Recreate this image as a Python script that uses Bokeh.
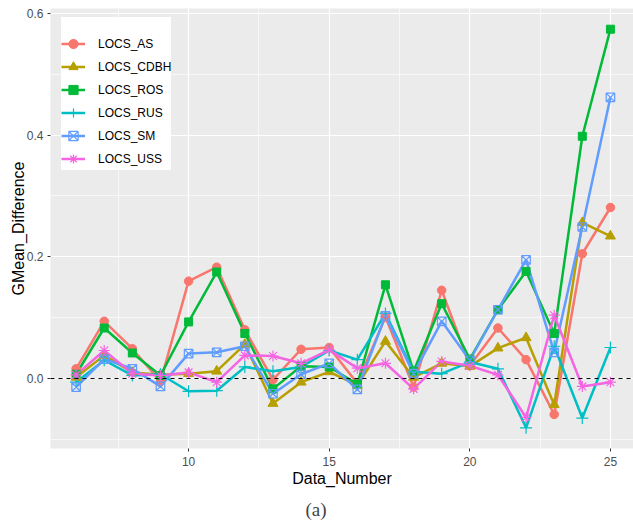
from bokeh.plotting import figure
from bokeh.models import (Range1d, FixedTicker, NumeralTickFormatter, Span,
                          Legend, LegendItem, Title)
from bokeh.embed import file_html
from bokeh.resources import INLINE

# Data sets 6..25
data_number = list(range(6, 26))

locs_as = [0.016, 0.094, 0.049, -0.005, 0.160, 0.183, 0.080, -0.002, 0.048, 0.051,
           -0.008, 0.101, -0.014, 0.145, 0.021, 0.083, 0.031, -0.059, 0.205, 0.281]
locs_cdbh = [0.002, 0.038, 0.010, 0.006, 0.008, 0.012, 0.056, -0.041, -0.006, 0.011,
             -0.011, 0.061, 0.002, 0.025, 0.020, 0.050, 0.067, -0.043, 0.256, 0.234]
locs_ros = [0.007, 0.083, 0.042, 0.005, 0.093, 0.175, 0.074, -0.017, 0.020, 0.019,
            -0.009, 0.154, 0.012, 0.123, 0.032, 0.113, 0.176, 0.074, 0.398, 0.574]
locs_rus = [-0.006, 0.030, 0.005, 0.007, -0.021, -0.020, 0.019, 0.012, 0.019, 0.046,
            0.031, 0.107, 0.011, 0.008, 0.027, 0.016, -0.081, 0.053, -0.065, 0.051]
locs_sm = [-0.014, 0.032, 0.016, -0.013, 0.041, 0.043, 0.053, -0.025, 0.007, 0.025,
           -0.018, 0.103, 0.008, 0.094, 0.030, 0.113, 0.195, 0.043, 0.249, 0.462]
locs_uss = [0.006, 0.046, 0.008, 0.005, 0.010, -0.006, 0.038, 0.037, 0.025, 0.047,
            0.017, 0.025, -0.017, 0.028, 0.021, 0.006, -0.064, 0.104, -0.013, -0.006]

series_names = ["LOCS_AS", "LOCS_CDBH", "LOCS_ROS", "LOCS_RUS", "LOCS_SM", "LOCS_USS"]
series_values = [locs_as, locs_cdbh, locs_ros, locs_rus, locs_sm, locs_uss]
colors = ["#F8766D", "#B79F00", "#00BA38", "#00BFC4", "#619CFF", "#F564E3"]
markers = ["circle", "triangle", "square", "cross", "square_x", "asterisk"]
marker_sizes = [8.5, 10, 8, 12, 8.5, 11]

x_ticks = [10, 15, 20, 25]
y_ticks = [0.0, 0.2, 0.4, 0.6]

p = figure(width=633, height=527, output_backend="svg", toolbar_location=None,
           x_range=Range1d(5.09, 25.82), y_range=Range1d(-0.115, 0.608),
           min_border_left=50, min_border_right=0, min_border_top=8,
           min_border_bottom=79)

p.background_fill_color = "#EBEBEB"
p.border_fill_color = "white"
p.outline_line_color = None

# Grid
for g in (p.xgrid, p.ygrid):
    g.grid_line_color = "white"
    g.grid_line_width = 1.2
    g.minor_grid_line_color = "white"
    g.minor_grid_line_width = 0.6
p.xaxis.ticker = FixedTicker(ticks=x_ticks, minor_ticks=[7.5, 12.5, 17.5, 22.5])
p.yaxis.ticker = FixedTicker(ticks=y_ticks, minor_ticks=[-0.1, 0.1, 0.3, 0.5])
p.yaxis.formatter = NumeralTickFormatter(format="0.0")

# Axes
for ax in (p.xaxis, p.yaxis):
    ax.axis_line_color = None
    ax.major_tick_line_color = "#333333"
    ax.major_tick_in = 0
    ax.major_tick_out = 3
    ax.minor_tick_line_color = None
    ax.major_label_text_font = "Liberation Sans"
    ax.major_label_text_font_size = "12px"
    ax.major_label_text_color = "#4D4D4D"
    ax.axis_label_text_font = "Liberation Sans"
    ax.axis_label_text_font_size = "16px"
    ax.axis_label_text_font_style = "normal"
    ax.axis_label_text_color = "black"
p.xaxis.axis_label = "Data_Number"
p.yaxis.axis_label = "GMean_Difference"
p.xaxis.major_label_standoff = 4
p.xaxis.axis_label_standoff = 1
p.yaxis.major_label_standoff = 3
p.yaxis.axis_label_standoff = -3

# Lines first, then points on top
line_renderers = []
for vals, col in zip(series_values, colors):
    line_renderers.append(p.line(data_number, vals, line_color=col, line_width=2.5))

point_renderers = []
for vals, col, mk, sz in zip(series_values, colors, markers, marker_sizes):
    if mk == "square_x":
        r = p.scatter(data_number, vals, marker=mk, size=sz, fill_color=None,
                      line_color=col, line_width=1.2)
    elif mk in ("cross", "asterisk"):
        r = p.scatter(data_number, vals, marker=mk, size=sz, line_color=col,
                      line_width=1.2)
    else:
        r = p.scatter(data_number, vals, marker=mk, size=sz, fill_color=col,
                      line_color=col, line_width=1)
    point_renderers.append(r)

# Zero reference line
p.add_layout(Span(location=0, dimension="width", line_color="black",
                  line_dash="4 4", line_width=1.2))

# Legend: an invisible title reserves the blank space above the keys
items = [LegendItem(label=name, renderers=[lr, pr])
         for name, lr, pr in zip(series_names, line_renderers, point_renderers)]
legend = Legend(items=items, location=(11, 278), margin=0, padding=7,
                spacing=0, glyph_width=24, glyph_height=23, label_height=23,
                label_standoff=13, label_text_font="Liberation Sans",
                label_text_font_size="12px", label_text_color="black",
                border_line_color=None, background_fill_color="white",
                background_fill_alpha=1.0, title="xxxxxxxxxxxxxxxx",
                title_text_alpha=0.0, title_text_font_size="13px",
                title_text_font="Liberation Sans", title_standoff=0)
p.add_layout(legend, "center")

caption = Title(text="(a)", align="left", offset=255, text_font="Liberation Serif",
                text_font_size="19px", text_font_style="normal", standoff=15)
p.add_layout(caption, "below")

open("out.html", "w").write(file_html(p, INLINE))
